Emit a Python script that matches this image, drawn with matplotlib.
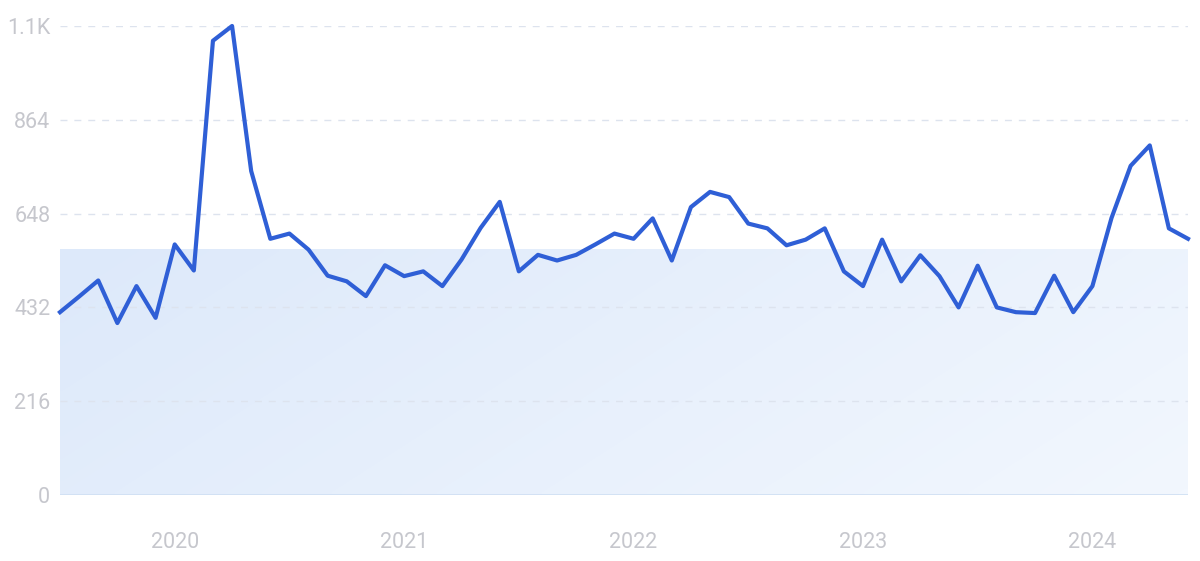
import matplotlib
matplotlib.use("Agg")
import matplotlib.pyplot as plt
import numpy as np
from matplotlib.colors import LinearSegmentedColormap

# Monthly values, Jul 2019 .. Jun 2024
months = list(range(-6, 54))  # 0 = Jan 2020
values = [421, 457, 494, 396, 481, 408,
          577, 517, 1046, 1080, 746, 590, 602, 565, 505, 492, 458, 529,
          504, 515, 481, 542, 615, 675, 515, 553, 540, 553, 577, 602,
          590, 637, 540, 663, 698, 686, 625, 614, 575, 588, 614, 515,
          481, 588, 492, 552, 504, 432, 528, 432, 421, 419, 505, 421,
          481, 638, 758, 805, 614, 590]
band_level = 566
yticks = [0, 216, 432, 648, 864, 1080]
ytick_labels = ["0", "216", "432", "648", "864", "1.1K"]
xticks = [0, 12, 24, 36, 48]
xtick_labels = ["2020", "2021", "2022", "2023", "2024"]

plt.rcParams['font.family'] = ['Roboto', 'DejaVu Sans']

W, H = 1200, 561
fig = plt.figure(figsize=(W / 100, H / 100), dpi=100)
ax = fig.add_axes([60 / W, (H - 495) / H, (1188 - 60) / W, (495 - 26) / H])

x0, x1 = months[0], months[-1]
ax.set_xlim(x0, x1)
ax.set_ylim(0, 1080)

# gradient band
cmap = LinearSegmentedColormap.from_list("band", ["#dde9fa", "#f2f7fe"])
gx, gy = np.meshgrid(np.linspace(0, 1, 200), np.linspace(0, 1, 50))
grad = 0.75 * gx + 0.25 * gy
ax.imshow(grad, extent=[x0, x1, 0, band_level], origin="upper", cmap=cmap,
          aspect="auto", zorder=0, interpolation="bilinear")

for yt in yticks[1:]:
    ax.axhline(yt, color="#dde3ee", lw=1, ls=(0, (5, 5)), zorder=1)
ax.axhline(0, color="#cfdff3", lw=1.2, zorder=1)

ax.plot(months, values, color="#2f5fd6", lw=3, solid_joinstyle="round",
        zorder=3, clip_on=False)

ax.set_xticks(xticks)
ax.set_xticklabels(xtick_labels)
ax.set_yticks(yticks)
ax.set_yticklabels(ytick_labels)
ax.tick_params(axis="both", length=0, labelsize=15.5, labelcolor="#c6c7cd")
ax.tick_params(axis="x", pad=27)
ax.tick_params(axis="y", pad=7)
for s in ax.spines.values():
    s.set_visible(False)

fig.savefig("out.png", dpi=100)
